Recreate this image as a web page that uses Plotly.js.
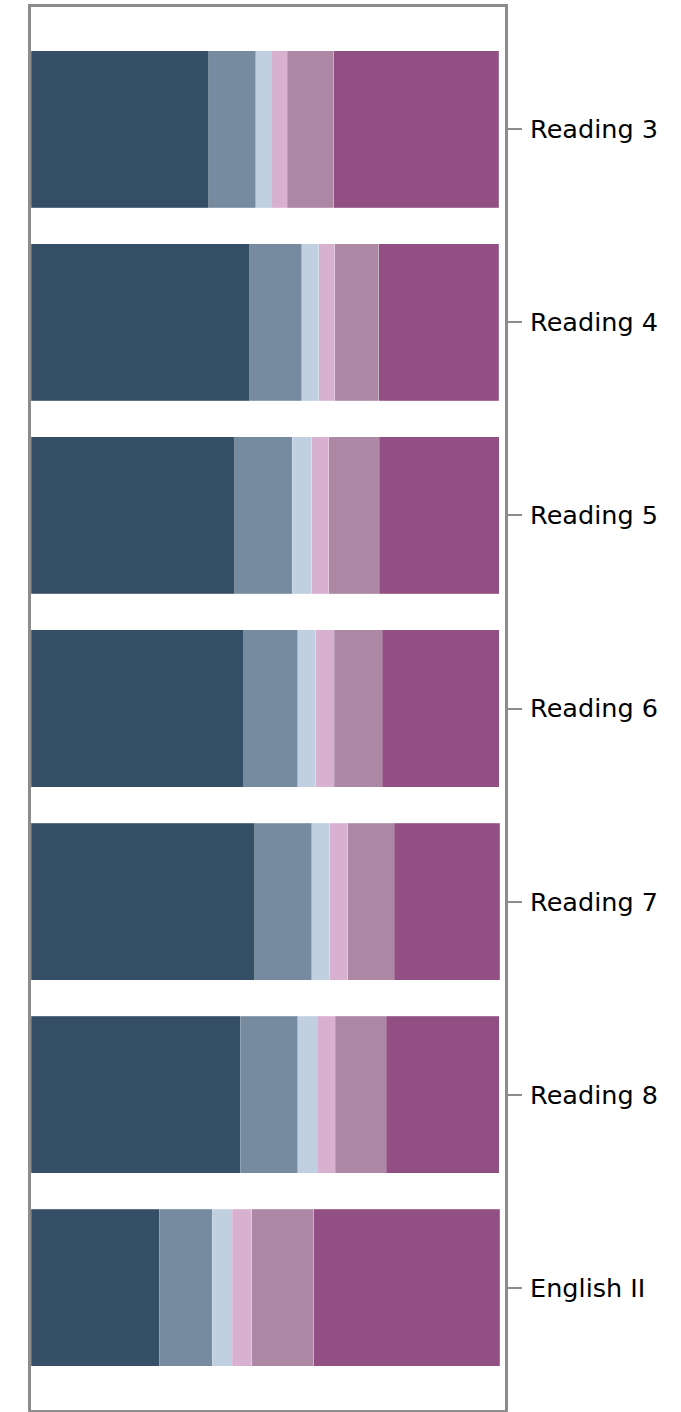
<!DOCTYPE html>
<html>
<head>
<meta charset="utf-8">
<script src="https://cdn.plot.ly/plotly-3.0.1.min.js"></script>
<style>html,body{margin:0;padding:0;background:#fff;}#chart{width:681px;height:1412px;}</style>
</head>
<body>
<div id="chart"></div>
<script>
const categories = ["Reading 3", "Reading 4", "Reading 5", "Reading 6", "Reading 7", "Reading 8", "English II"];
const level1 = [37.9, 46.7, 43.5, 45.4, 47.8, 44.7, 27.4];
const level2 = [10.1, 11.1, 12.3, 11.6, 12.1, 12.3, 11.3];
const level3 = [3.3, 3.6, 4.1, 3.8, 3.9, 4.1, 4.3];
const level4 = [3.4, 3.4, 3.7, 3.9, 3.8, 3.9, 4.1];
const level5 = [9.9, 9.4, 10.8, 10.3, 10.0, 10.8, 13.3];
const level6 = [35.3, 25.7, 25.6, 25.0, 22.5, 24.2, 39.7];
const seriesNames = ["Level 1", "Level 2", "Level 3", "Level 4", "Level 5", "Level 6"];
const colors = ["#344f66", "#768ba0", "#c0d0e0", "#d8b0d0", "#ac88a4", "#924f84"];

const allSeries = [level1, level2, level3, level4, level5, level6];
const traces = allSeries.map((vals, i) => ({
  type: "bar",
  orientation: "h",
  name: seriesNames[i],
  x: vals,
  y: categories,
  marker: {color: colors[i], line: {color: "rgba(255,255,255,0.25)", width: 0.8}},
  hoverinfo: "x+y+name"
}));

const layout = {
  width: 681,
  height: 1412,
  margin: {l: 31, r: 176, t: 7, b: 2},
  barmode: "stack",
  bargap: 0.187,
  showlegend: false,
  paper_bgcolor: "#fff",
  plot_bgcolor: "#fff",
  font: {family: "DejaVu Sans, sans-serif", size: 25.5, color: "#000"},
  xaxis: {
    range: [0, 101.2],
    showticklabels: false,
    showgrid: false,
    zeroline: false,
    ticks: "",
    showline: true,
    mirror: true,
    linecolor: "#8c8c8c",
    linewidth: 3
  },
  yaxis: {
    type: "category",
    side: "right",
    range: [6.632, -0.632],
    showgrid: false,
    zeroline: false,
    ticks: "outside",
    ticklen: 14,
    tickwidth: 2,
    tickcolor: "#8c8c8c",
    ticklabelstandoff: 3,
    showline: true,
    mirror: true,
    linecolor: "#8c8c8c",
    linewidth: 3,
    tickfont: {family: "DejaVu Sans, sans-serif", size: 25.5, color: "#000"}
  }
};

Plotly.newPlot("chart", traces, layout, {displayModeBar: false, staticPlot: true});
</script>
</body>
</html>
